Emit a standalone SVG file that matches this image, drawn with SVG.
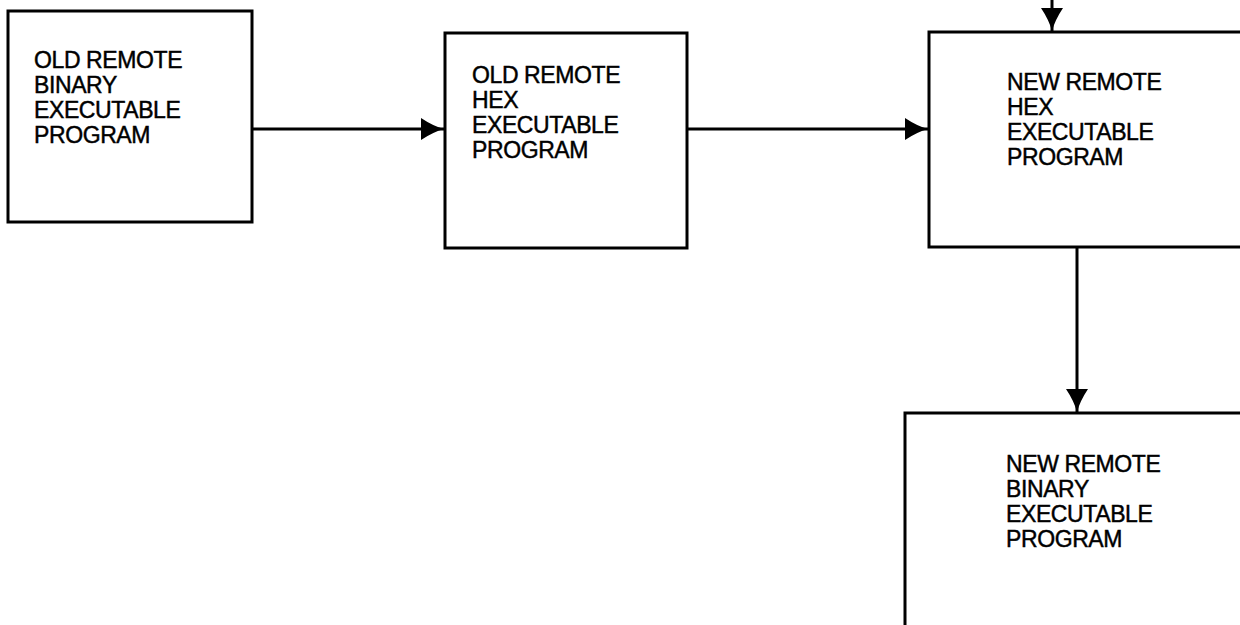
<svg xmlns="http://www.w3.org/2000/svg" width="1240" height="625" viewBox="0 0 1240 625">
<style>
.box{fill:none;stroke:#000;stroke-width:3}
.lbl{font-family:"Liberation Sans",Arial,sans-serif;font-size:23px;fill:#000;stroke:#000;stroke-width:0.45;letter-spacing:-0.4px}
.conn{stroke:#000;stroke-width:3;fill:none}
</style>
<defs>
<marker id="ah" viewBox="0 0 23 22" refX="23" refY="11" markerWidth="23" markerHeight="22" markerUnits="userSpaceOnUse" orient="auto">
<path d="M0,0 Q12,8 23,11 Q12,14 0,22 Z" fill="#000"/>
</marker>
</defs>
<rect width="1240" height="625" fill="#fff"/>
<g id="connectors">
<line class="conn" x1="252" y1="129" x2="444" y2="129" marker-end="url(#ah)"/>
<line class="conn" x1="687" y1="129" x2="928" y2="129" marker-end="url(#ah)"/>
<line class="conn" x1="1052" y1="0" x2="1052" y2="31" marker-end="url(#ah)"/>
<line class="conn" x1="1077" y1="247" x2="1077" y2="412" marker-end="url(#ah)"/>
</g>
<g id="old-binary">
<rect class="box" x="8" y="11" width="244" height="211"/>
<text class="lbl" x="34" y="68">OLD REMOTE</text>
<text class="lbl" x="34" y="93">BINARY</text>
<text class="lbl" x="34" y="118">EXECUTABLE</text>
<text class="lbl" x="34" y="143">PROGRAM</text>
</g>
<g id="old-hex">
<rect class="box" x="445" y="33" width="242" height="215"/>
<text class="lbl" x="472" y="83">OLD REMOTE</text>
<text class="lbl" x="472" y="108">HEX</text>
<text class="lbl" x="472" y="133">EXECUTABLE</text>
<text class="lbl" x="472" y="158">PROGRAM</text>
</g>
<g id="new-hex">
<rect class="box" x="929" y="32" width="330" height="215"/>
<text class="lbl" x="1007" y="90">NEW REMOTE</text>
<text class="lbl" x="1007" y="115">HEX</text>
<text class="lbl" x="1007" y="140">EXECUTABLE</text>
<text class="lbl" x="1007" y="165">PROGRAM</text>
</g>
<g id="new-binary">
<rect class="box" x="905" y="413" width="360" height="240"/>
<text class="lbl" x="1006" y="472">NEW REMOTE</text>
<text class="lbl" x="1006" y="497">BINARY</text>
<text class="lbl" x="1006" y="522">EXECUTABLE</text>
<text class="lbl" x="1006" y="547">PROGRAM</text>
</g>
</svg>
